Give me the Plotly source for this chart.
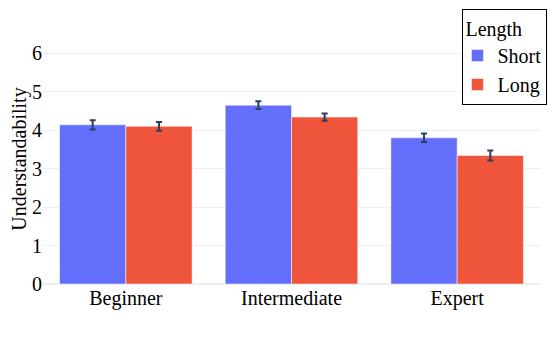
import plotly.graph_objects as go

levels = ['Beginner', 'Intermediate', 'Expert']
short_vals = [4.14, 4.65, 3.80]
short_err = [0.12, 0.10, 0.11]
long_vals = [4.10, 4.34, 3.34]
long_err = [0.115, 0.095, 0.13]

serif = dict(family='Liberation Serif', size=20, color='black')

fig = go.Figure()
fig.add_trace(go.Bar(
    name='Short', x=levels, y=short_vals,
    marker_color='#636efa',
    error_y=dict(type='data', array=short_err, color='#2a3f5f', thickness=2, width=3)
))
fig.add_trace(go.Bar(
    name='Long', x=levels, y=long_vals,
    marker_color='#EF553B',
    error_y=dict(type='data', array=long_err, color='#2a3f5f', thickness=2, width=3)
))

fig.update_layout(
    template='plotly_white',
    barmode='group',
    width=555,
    height=347,
    margin=dict(l=35, r=23, t=26, b=71, autoexpand=False),
    font=serif,
    xaxis=dict(tickfont=serif),
    yaxis=dict(title=dict(text='Understandability', standoff=2, font=serif), range=[0, 6.5],
               tickvals=[0, 1, 2, 3, 4, 5, 6], tickfont=serif),
    legend=dict(
        title=dict(text='Length', font=serif),
        font=serif,
        indentation=-6,
        x=1.015, xanchor='right', y=1.1, yanchor='top',
        bordercolor='black', borderwidth=1,
        bgcolor='white',
    ),
)

fig.write_html('out.html')
